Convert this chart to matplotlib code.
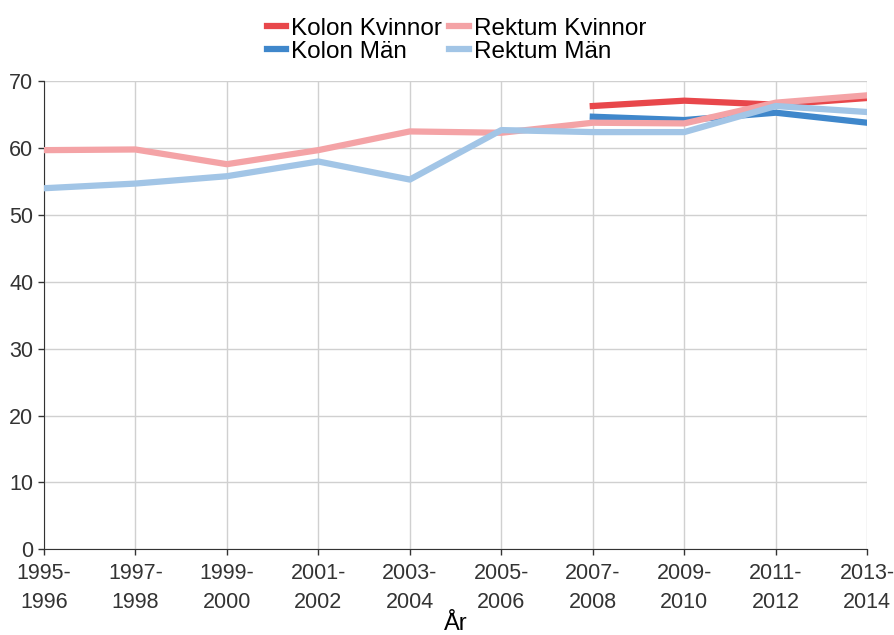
import matplotlib.pyplot as plt

plt.rcParams['font.family'] = ['Liberation Sans', 'DejaVu Sans']

perioder = ['1995-\n1996', '1997-\n1998', '1999-\n2000', '2001-\n2002', '2003-\n2004',
            '2005-\n2006', '2007-\n2008', '2009-\n2010', '2011-\n2012', '2013-\n2014']
x = list(range(len(perioder)))

# Kolon only has data from 2007-2008
kolon_kvinnor = [None, None, None, None, None, None, 66.3, 67.1, 66.5, 67.5]
kolon_man = [None, None, None, None, None, None, 64.7, 64.2, 65.3, 63.8]
rektum_kvinnor = [59.7, 59.8, 57.6, 59.7, 62.5, 62.3, 63.8, 63.7, 66.8, 67.9]
rektum_man = [54.0, 54.7, 55.8, 58.0, 55.3, 62.7, 62.4, 62.4, 66.3, 65.4]

fig = plt.figure(figsize=(8.95, 6.35), dpi=100)
ax = fig.add_axes([0.049, 0.135, 0.92, 0.737])

def clean(vals):
    return [float('nan') if v is None else v for v in vals]

l1, = ax.plot(x, clean(kolon_kvinnor), color='#E8474B', lw=4.5, label='Kolon Kvinnor', zorder=3)
l2, = ax.plot(x, clean(kolon_man), color='#3F87CB', lw=4.5, label='Kolon Män', zorder=3)
l3, = ax.plot(x, clean(rektum_kvinnor), color='#F4A3A6', lw=4.5, label='Rektum Kvinnor', zorder=3)
l4, = ax.plot(x, clean(rektum_man), color='#A2C5E6', lw=4.5, label='Rektum Män', zorder=3)

ax.set_xlim(0, len(perioder) - 1)
ax.set_ylim(0, 70)
ax.set_yticks(range(0, 71, 10))
ax.set_xticks(x)
ax.set_xticklabels(perioder)
ax.tick_params(labelsize=15.5, colors='#333333', length=4, width=1)
ax.tick_params(axis='x', pad=6)
plt.setp(ax.get_xticklabels(), linespacing=1.5)

ax.grid(True, color='#d0d0d0', lw=1)
ax.set_axisbelow(True)
for s in ['top', 'right']:
    ax.spines[s].set_visible(False)
for s in ['left', 'bottom']:
    ax.spines[s].set_color('#333333')

ax.set_xlabel('År', fontsize=17, labelpad=0)

fig.legend(handles=[l1, l2, l3, l4], ncol=2, loc='upper center', bbox_to_anchor=(0.51, 0.995),
           frameon=False, fontsize=17.5, handlelength=0.8, handletextpad=0.2,
           columnspacing=0.3, labelspacing=0.05, borderaxespad=0.2)

fig.savefig('out.png', dpi=100)
